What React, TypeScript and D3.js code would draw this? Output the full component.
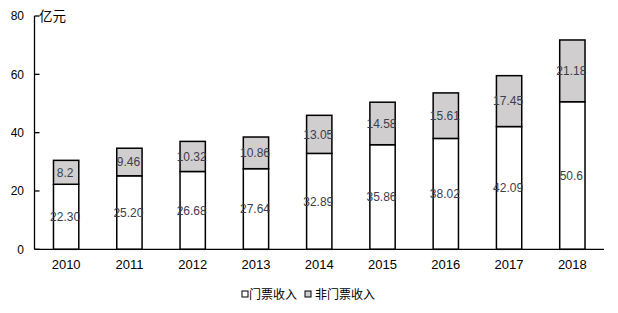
import React from "react";
import * as d3 from "d3";

const years = ["2010", "2011", "2012", "2013", "2014", "2015", "2016", "2017", "2018"];
const ticketValues = [22.3, 25.2, 26.68, 27.64, 32.89, 35.86, 38.02, 42.09, 50.6];
const ticketLabels = ["22.30", "25.20", "26.68", "27.64", "32.89", "35.86", "38.02", "42.09", "50.6"];
const nonTicketValues = [8.2, 9.46, 10.32, 10.86, 13.05, 14.58, 15.61, 17.45, 21.18];
const nonTicketLabels = ["8.2", "9.46", "10.32", "10.86", "13.05", "14.58", "15.61", "17.45", "21.18"];
const yTicks = [0, 20, 40, 60, 80];
const seriesNames = ["门票收入", "非门票收入"];

const W = 618;
const H = 313;
const axisX = 34.5;
const rightX = 604;
const y0 = 249.3;
const yTop = 16;
const GRAY = "#d0cece";
const LABEL = "#3d3d4d";
const FONT = "'Liberation Sans', Arial, sans-serif";
const CJK = "'Noto Sans CJK SC', sans-serif";

export default function App() {
  const x = d3.scaleBand<string>().domain(years).range([axisX, rightX]).padding(0);
  const y = d3.scaleLinear().domain([0, 80]).range([y0, yTop]);
  const bw = x.bandwidth() * 0.4;

  return (
    <svg
      width={W}
      height={H}
      style={{ position: "absolute", left: 0, top: 0, display: "block", background: "#fff" }}
    >
      {/* bars */}
      {years.map((yr, i) => {
        const cx = (x(yr) as number) + x.bandwidth() / 2;
        const t = ticketValues[i];
        const n = nonTicketValues[i];
        const yT = y(t);
        const yN = y(t + n);
        return (
          <g key={yr}>
            <rect x={cx - bw / 2} y={yT} width={bw} height={y0 - yT} fill="#fff" stroke="#000" strokeWidth={1.5} />
            <rect x={cx - bw / 2} y={yN} width={bw} height={yT - yN} fill={GRAY} stroke="#000" strokeWidth={1.5} />
            <text x={cx - 1} y={(yT + y0) / 2} dy="0.35em" textAnchor="middle" fontFamily={FONT} fontSize={12} fill={LABEL}>
              {ticketLabels[i]}
            </text>
            <text x={cx - 1} y={(yN + yT) / 2} dy="0.35em" textAnchor="middle" fontFamily={FONT} fontSize={12} fill={LABEL}>
              {nonTicketLabels[i]}
            </text>
            <text x={cx} y={264} dy="0.35em" textAnchor="middle" fontFamily={FONT} fontSize={13} fill="#000">
              {yr}
            </text>
          </g>
        );
      })}

      {/* y axis */}
      <line x1={axisX} x2={axisX} y1={yTop} y2={y0} stroke="#000" strokeWidth={1.3} />
      {yTicks.map((v) => (
        <g key={v}>
          <line x1={axisX} x2={axisX + 5} y1={y(v)} y2={y(v)} stroke="#000" strokeWidth={1.3} />
          <text x={24} y={y(v)} dy="0.35em" textAnchor="end" fontFamily={FONT} fontSize={12} fill="#000">
            {v}
          </text>
        </g>
      ))}
      {/* x axis */}
      <line x1={axisX} x2={rightX} y1={y0} y2={y0} stroke="#000" strokeWidth={1.3} />

      {/* unit label */}
      <text x={39} y={21} fontFamily={CJK} fontSize={13.5} fill="#000">
        亿元
      </text>

      {/* legend */}
      <rect x={242} y={291} width={6} height={6} fill="#fff" stroke="#000" strokeWidth={1} />
      <text x={249} y={298.5} fontFamily={CJK} fontSize={12} fill="#000">
        {seriesNames[0]}
      </text>
      <rect x={305} y={291} width={6} height={6} fill={GRAY} stroke="#000" strokeWidth={1} />
      <text x={315} y={298.5} fontFamily={CJK} fontSize={12} fill="#000">
        {seriesNames[1]}
      </text>
    </svg>
  );
}
